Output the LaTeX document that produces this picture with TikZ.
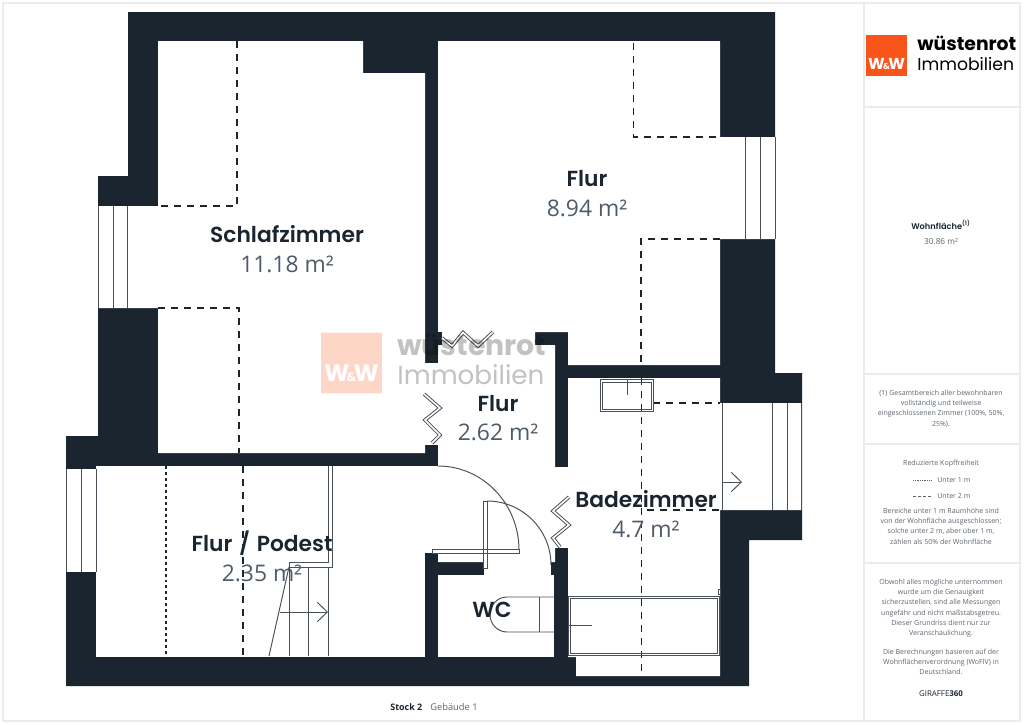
\documentclass[tikz,border=0pt]{standalone}
\usepackage{fontspec}
\setmainfont{Open Sans}
\newfontfamily\labelfont{Poppins}[BoldFont={Poppins SemiBold}]
\newfontfamily\logofont{Poppins}
\usetikzlibrary{arrows.meta, positioning}
\definecolor{wallcolor}{HTML}{1B2530}
\definecolor{areacolor}{HTML}{4F5B69}
\definecolor{linecolor}{HTML}{4A5058}
\definecolor{framecolor}{HTML}{ECECEC}
\definecolor{logocolor}{HTML}{F9551A}
\definecolor{notecolor}{HTML}{5F6670}
\begin{document}
\begin{tikzpicture}[x=0.02cm, y=-0.02cm,
                roomlabel/.style={text=wallcolor, font=\labelfont\bfseries\fontsize{12.4}{15}\selectfont, inner sep=0pt},
                roomarea/.style={text=areacolor, font=\fontsize{13}{15}\selectfont, inner sep=0pt},
                note/.style={text=notecolor, font=\fontsize{4}{5.85}\selectfont, align=center, inner sep=0pt, anchor=north},
                lowdash/.style={wallcolor, line width=0.95pt, dash pattern=on 4.1pt off 3.3pt},
                lowdot/.style={wallcolor, line width=0.95pt, dash pattern=on 1.7pt off 1.7pt},
                fixture/.style={linecolor, line width=0.55pt},
                zigzag/.style={linecolor, line width=0.55pt, double=white, double distance=0.9pt},
                frameline/.style={framecolor, line width=0.9pt}]
                \useasboundingbox (0,0) rectangle (1024,724);
                \fill[white] (0,0) rectangle (1024,724);
                \draw[frameline] (3,3) rectangle (1020,721);
                \draw[frameline] (864,3) -- (864,721);
                \draw[frameline] (864,107) -- (1020,107);
                \draw[frameline] (864,374) -- (1020,374);
                \draw[frameline] (864,444) -- (1020,444);
                \draw[frameline] (864,563) -- (1020,563);

                \fill[wallcolor] (128,12) -- (775,12) -- (775,373) -- (802,373) -- (802,540) -- (749,540) -- (749,686)
                    -- (66,686) -- (66,436) -- (98,436) -- (98,176) -- (128,176) -- cycle;
                \fill[white] (158,41) -- (363,41) -- (363,73) -- (425,73) -- (425,453) -- (158,453) -- (158,308)
                    -- (98,308) -- (98,206) -- (158,206) -- cycle;
                \fill[white] (425,363) rectangle (438,445);
                \fill[white] (438,41) -- (720,41) -- (720,137) -- (775,137) -- (775,239) -- (720,239) -- (720,365)
                    -- (568,365) -- (568,332) -- (535,332) -- (535,345) -- (555,345) -- (555,562) -- (438,562) -- cycle;
                \fill[wallcolor] (438,332) rectangle (442,345);
                \fill[white] (568,378) -- (720,378) -- (720,403) -- (802,403) -- (802,510) -- (720,510) -- (720,676)
                    -- (576,676) -- (576,657) -- (568,657) -- cycle;
                \fill[white] (554,467) rectangle (568,548);
                \fill[white] (96,466) rectangle (425,657);
                \fill[white] (66,469) rectangle (96,572);
                \fill[white] (425,466) rectangle (438,553);
                \fill[white] (438,575) rectangle (554,657);
                \fill[white] (484,560) rectangle (551,575);

                \draw[fixture] (66,469) -- (66,572) (81,469) -- (81,572) (96,469) -- (96,572);
                \draw[fixture] (98,206) -- (98,308) (113,206) -- (113,308) (127.5,206) -- (127.5,308);
                \draw[fixture] (745,137) -- (745,239) (760,137) -- (760,239) (775,137) -- (775,239);
                \draw[fixture] (722,403) -- (722,510) (772,403) -- (772,510) (787,403) -- (787,510) (801,403) -- (801,510);

                \draw[lowdash] (237,41) -- (237,206) -- (158,206);
                \draw[lowdash] (158,308) -- (239,308) -- (239,453);
                \draw[lowdash] (243,466) -- (243,656);
                \draw[lowdot] (166,466) -- (166,656);
                \draw[lowdash] (633.5,43) -- (633.5,137) -- (720,137);
                \draw[lowdash] (720,239) -- (641,239) -- (641,365);
                \draw[lowdash] (641.5,378) -- (641.5,676);
                \draw[lowdash] (653,403) -- (720,403);
                \draw[lowdash] (647,510) -- (720,510);

                \draw[fixture] (600,379) rectangle (653,411);
                \draw[fixture] (602,382) rectangle (651,409);
                \draw[fixture] (627,379) -- (627,395);
                \draw[fixture] (568,596) rectangle (719,655);
                \draw[fixture] (570,598) rectangle (717,653);
                \draw[fixture] (568,625.5) -- (592,625.5);
                \draw[fixture] (718,589) rectangle (720,594);
                \draw[fixture] (554,597) -- (507,597) arc[start angle=90, end angle=270, x radius=17, y radius=-17.5] -- (554,632);
                \draw[fixture] (539,597) -- (539,632);

                \draw[fixture] (438,466) arc[start angle=90, end angle=0, x radius=1.62cm, y radius=1.68cm];
                \draw[fixture] (432,549) rectangle (519,553);
                \draw[fixture] (487,501) arc[start angle=90, end angle=0, radius=1.28cm];
                \draw[fixture] (483,501) rectangle (487.5,568);
                \draw[zigzag] (442,338) -- (452,346) -- (463,332.5) -- (478,346) -- (493,332);
                \draw[zigzag] (424,394) -- (440,408) -- (425,420) -- (440,435) -- (432,443);
                \draw[zigzag] (569,497) -- (553,511) -- (569,525) -- (553,538) -- (560,547);

                \draw[fixture] (332.5,466) -- (332.5,567) -- (289,567) -- (289,562) -- (328,562) -- (328,466);
                \draw[fixture] (289,567) -- (289,656) (308,567) -- (308,656) (328,567) -- (328,656);
                \draw[fixture] (289,567) -- (269,656);
                \draw[fixture, -{Straight Barb[length=5.7pt, width=11pt]}] (280,612) -- (328,612);
                \draw[fixture, -{Straight Barb[length=5.7pt, width=11pt]}] (722,482) -- (742,482);

                \node[roomlabel] (schlaf) at (287,234) {Schlafzimmer};
                \node[roomarea] (schlafarea) at (287,264) {11.18 m²};
                \node[roomlabel] (flurtop) at (587,179) {Flur};
                \node[roomarea] (flurtoparea) at (587,208) {8.94 m²};
                \node[roomlabel] (flurmid) at (498,404) {Flur};
                \node[roomarea] (flurmidarea) at (498,432) {2.62 m²};
                \node[roomlabel] (podest) at (262,543) {Flur\kern1pt{} / \kern1pt Podest};
                \node[roomarea] (podestarea) at (262,573) {2.35 m²};
                \node[roomlabel] (bad) at (646,499) {Badezimmer};
                \node[roomarea] (badarea) at (646,529) {4.7 m²};
                \node[roomlabel] (wc) at (492,610) {WC};

                \begin{scope}[opacity=0.24, transparency group]
                \node[fill=logocolor, minimum size=34.6pt, inner sep=0pt] (markbox) at (351.5,363) {};
                \node[inner sep=0pt, text=white, font=\logofont\bfseries\fontsize{13.5}{15}\selectfont] (markinit) at (351.5,373) {W\kern-1.5pt{\fontsize{7}{8}\selectfont\&}\kern-1.5pt W};
                \node[anchor=west, inner sep=0pt, text=black, font=\logofont\bfseries\fontsize{16.1}{18}\selectfont] (markname) at (397,345) {wüstenrot};
                \node[anchor=west, inner sep=0pt, text=black, font=\logofont\fontsize{14.9}{17}\selectfont] (markcity) at (397,375) {Immobilien};
                \end{scope}

                \node[fill=logocolor, minimum size=23.3pt, inner sep=0pt] (logobox) at (886.5,55.5) {};
                \node[inner sep=0pt, text=white, font=\logofont\bfseries\fontsize{9}{10}\selectfont] (logoinit) at (886.5,64) {W\kern-1pt{\fontsize{5}{6}\selectfont\&}\kern-1pt W};
                \node[anchor=west, inner sep=0pt, text=black, font=\logofont\bfseries\fontsize{10.7}{12}\selectfont] (logoname) at (917,43) {wüstenrot};
                \node[anchor=west, inner sep=0pt, text=black, font=\logofont\fontsize{9.8}{11}\selectfont] (logocity) at (917,64) {Immobilien};

                \node[inner sep=0pt, text=wallcolor, font=\labelfont\bfseries\fontsize{4.7}{6}\selectfont] (wohn) at (941,225) {Wohnfläche\textsuperscript{(1)}};
                \node[inner sep=0pt, text=notecolor, font=\fontsize{4.7}{6}\selectfont] (wohnarea) at (941,242) {30.86 m²};

                \node[note] (gesamt) at (941,389.5) {(1) Gesamtbereich aller bewohnbaren\\vollständig und teilweise\\eingeschlossenen Zimmer (100\%, 50\%,\\25\%).};
                \node[note] (kopf) at (941,459.5) {Reduzierte Kopffreiheit};
                \coordinate (dotstart) at (913,480);
                \coordinate (dotend) at (931,480);
                \coordinate (dashstart) at (913,496);
                \coordinate (dashend) at (931,496);
                \draw[notecolor, line width=0.3pt, dash pattern=on 0.6pt off 0.4pt] (dotstart) -- (dotend);
                \draw[notecolor, line width=0.4pt, dash pattern=on 1.7pt off 1.2pt] (dashstart) -- (dashend);
                \node[note, anchor=west] (under1) at (937,480) {Unter 1 m};
                \node[note, anchor=west] (under2) at (937,496) {Unter 2 m};
                \node[note] (bereiche) at (941,507.5) {Bereiche unter 1 m Raumhöhe sind\\von der Wohnfläche ausgeschlossen;\\solche unter 2 m, aber über 1 m,\\zählen als 50\% der Wohnfläche};
                \node[note] (obwohl) at (941,578.5) {Obwohl alles mögliche unternommen\\wurde um die Genauigkeit\\sicherzustellen, sind alle Messungen\\ungefähr und nicht maßstabsgetreu.\\Dieser Grundriss dient nur zur\\Veranschaulichung.};
                \node[note] (berech) at (941,648.5) {Die Berechnungen basieren auf der\\Wohnflächenverordnung (WoFlV) in\\Deutschland.};
                \node[inner sep=0pt, text=wallcolor, font=\fontsize{4.5}{6}\selectfont] (giraffe) at (941,694) {GIRAFFE\textbf{360}};

                \node[inner sep=0pt, anchor=west, text=wallcolor, font=\fontsize{5.1}{6}\selectfont\bfseries] (stock) at (390,707) {Stock 2};
                \node[inner sep=0pt, anchor=west, text=notecolor, font=\fontsize{5.3}{6}\selectfont] (haus) at (430,707) {Gebäude 1};
            \end{tikzpicture}
\end{document}
